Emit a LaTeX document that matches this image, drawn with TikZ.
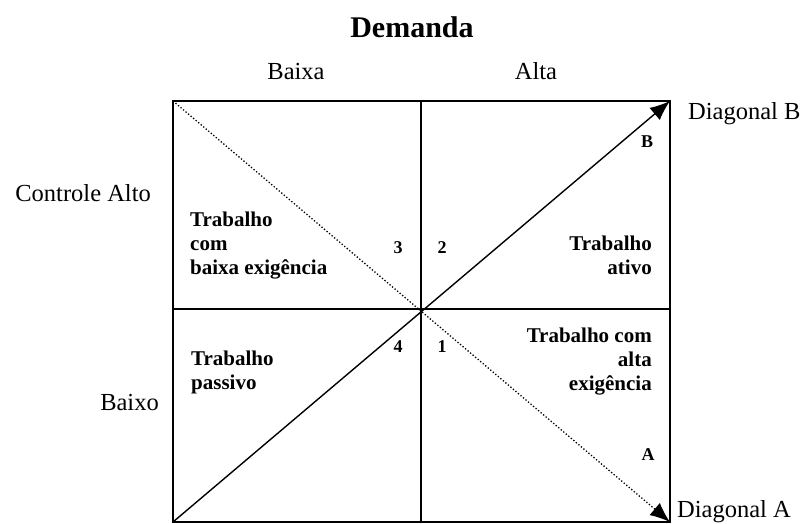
\documentclass[tikz,border=0pt]{standalone}
\usepackage{fontspec}
\setmainfont{Liberation Serif}
\usetikzlibrary{arrows.meta}
\begin{document}
\begin{tikzpicture}[x=1pt,y=-1pt,
  eixo/.style={font=\fontsize{24.5}{27}\selectfont, inner sep=0pt},
  quadro/.style={font=\fontsize{21}{24}\selectfont\bfseries, inner sep=0pt},
  numero/.style={font=\fontsize{18}{20}\selectfont\bfseries, inner sep=0pt},
  seta/.style={-{Latex[length=20pt,width=16pt]}}]

\useasboundingbox (0,0) rectangle (804,524);

% cantos e meios do quadro
\coordinate (tl) at (173,101);
\coordinate (tr) at (670,101);
\coordinate (bl) at (173,522);
\coordinate (br) at (670,522);
\coordinate (tm) at (421,101);
\coordinate (bm) at (421,522);
\coordinate (ml) at (173,309);
\coordinate (mr) at (670,309);

\draw [line width=1.6pt] (tl) rectangle (br);
\draw [line width=1.4pt] (tm) -- (bm);
\draw [line width=1.4pt] (ml) -- (mr);

\draw [seta, line width=1.4pt] (bl) -- (tr);
\draw [seta, line width=1.3pt, dotted] (tl) -- (br);

\node [eixo, font=\fontsize{30}{32}\selectfont\bfseries, anchor=base] (dem) at (412,38) {Demanda};
\node [eixo, anchor=base] (baixa) at (296,80) {Baixa};
\node [eixo, anchor=base] (alta) at (536,80) {Alta};

\node [eixo, anchor=base west] (diagb) at (688,120) {Diagonal B};
\node [eixo, anchor=base west] (diaga) at (677,517) {Diagonal A};
\node [eixo, anchor=base east] (calto) at (151,202) {Controle Alto};
\node [eixo, anchor=base east] (cbaixo) at (159,410) {Baixo};

\node [quadro, align=left, anchor=north west] (q3) at (190,211.7) {Trabalho\\com\\baixa exigência};
\node [quadro, align=right, anchor=north east] (q2) at (652,235.7) {Trabalho\\ativo};
\node [quadro, align=left, anchor=north west] (q4) at (191,350.7) {Trabalho\\passivo};
\node [quadro, align=right, anchor=north east] (q1) at (652,327.7) {Trabalho com\\alta\\exigência};

\node [numero] (n3) at (398,248) {3};
\node [numero] (n2) at (442,248) {2};
\node [numero] (n4) at (398,347) {4};
\node [numero] (n1) at (442,347) {1};

\node [numero] (lb) at (647,142) {B};
\node [numero] (la) at (648,455) {A};

\end{tikzpicture}
\end{document}
